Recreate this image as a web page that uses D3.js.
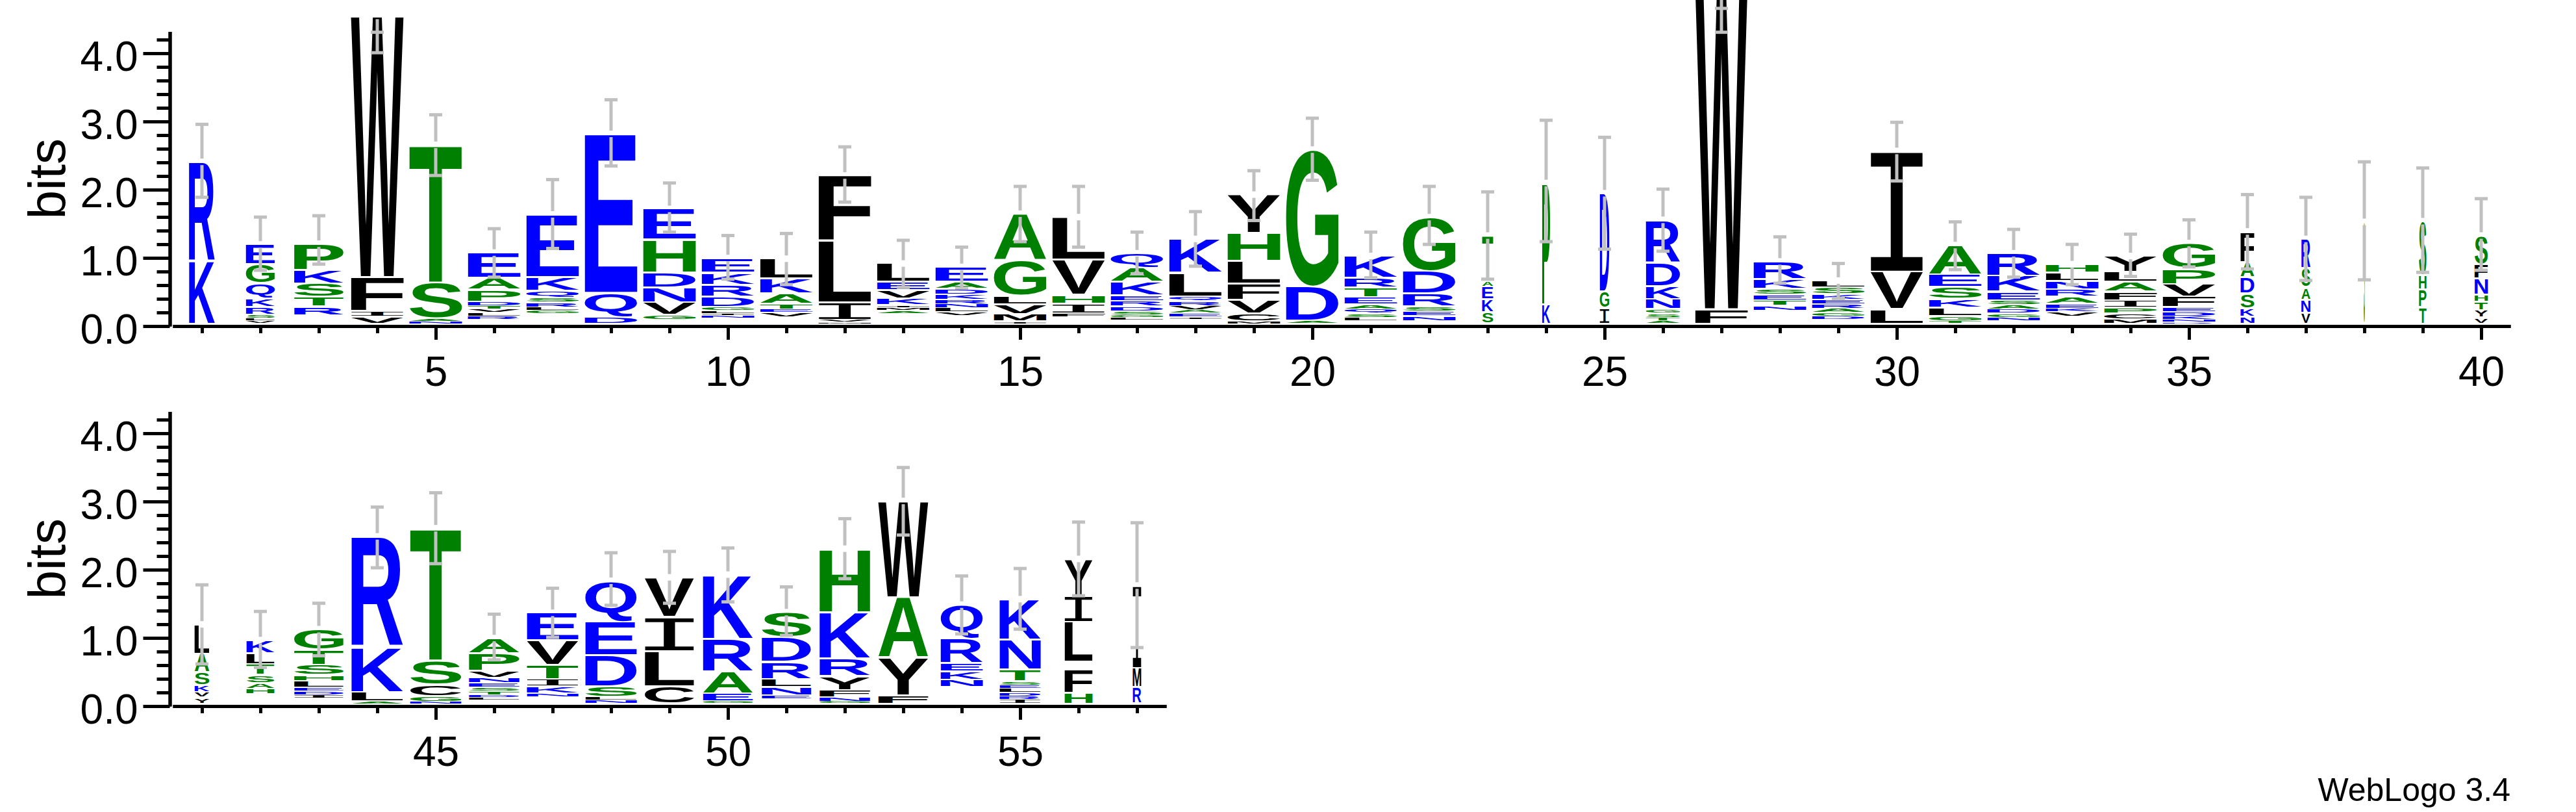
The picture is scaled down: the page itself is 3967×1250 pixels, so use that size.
<!DOCTYPE html>
<html><head><meta charset="utf-8">
<script src="https://cdn.jsdelivr.net/npm/d3@7"></script>
<style>html,body{margin:0;padding:0;background:#fff}svg{display:block}</style>
</head><body>
<svg id="c" width="3967" height="1250"></svg>
<script>
// ---------------- data ----------------
const positions = d3.range(1, 58);
const stackWidths = [0.49,0.55,0.94,1,1,1,1,1,1,1,1,1,1,1,1,1,1,1,1,1,1,1,0.21,0.15,0.18,0.65,1,1,1,1,1,1,1,1,1,0.26,0.17,0.02,0.14,0.25,
  0.28,0.53,0.94,0.98,0.97,0.96,0.98,0.98,0.94,0.95,0.94,0.96,0.95,0.8,0.78,0.53,0.16];
// letters listed bottom -> top; "-" = empty (too thin to show)
const stackLetters = ["KR","VLSRKQGE","-RTSKP","VIFW","NAST","-RLVTDPAE","-GLRSQKE","DQE","-GVNDHE","-NILGDRKE",
  "-VETAKL","MVILF","-AMIKVEL","-VLNRKDAE","IMVLGA","-FIHVL","-LGSDREKAQ","-IEAVRQLK","MCVFLHY","ADG",
  "-LSQAETRK","-NESRDG","SKEAT","KP","IGD","ATSGNKDR","FW","-NTESKR","-DGAREKSL","LVI",
  "TGLKSEA","-NGDASEKR","-VKEARNLH","MCPIFALY","RNKDEFVPG","NKSDAF","VNASR","S","TPHS","VYTHNFS",
  "YVKSAL","-HASTLK","-IDELHSTG","ALKR","NGCST","-LDTSENVPA","-NKITVE","NLSDEQ","CLIV","GEARK",
  "-ENLRDS","GNFYRKH","FYAW","-NKERQ","IRDLESTNK","HF-LIY","RMI"];
const stackBits = [
  [0.92,1.45],[0.04,0.04,0.05,0.11,0.13,0.22,0.28,0.29],[0.12,0.13,0.14,0.2,0.2,0.38],[0.10,0.09,0.49,3.83],
  [0.03,0.04,0.53,2.02],[0.06,0.05,0.05,0.05,0.05,0.06,0.18,0.17,0.37],[0.14,0.05,0.05,0.07,0.07,0.10,0.20,0.92],
  [0.10,0.35,2.33],[0.06,0.07,0.18,0.22,0.22,0.48,0.45],[0.08,0.04,0.03,0.04,0.05,0.15,0.18,0.18,0.21],
  [0.10,0.06,0.05,0.08,0.15,0.22,0.29],[0.02,0.03,0.26,0.90,0.96],[0.15,0.04,0.04,0.04,0.10,0.12,0.12,0.27],
  [0.12,0.05,0.06,0.06,0.06,0.08,0.08,0.10,0.22],[0.03,0.11,0.14,0.13,0.52,0.68],[0.10,0.05,0.14,0.13,0.52,0.62],
  [0.05,0.04,0.04,0.05,0.07,0.08,0.08,0.20,0.21,0.21],[0.06,0.04,0.05,0.05,0.06,0.07,0.07,0.35,0.49],
  [0.03,0.12,0.20,0.24,0.33,0.41,0.56],[0.04,0.50,2.01],[0.04,0.05,0.06,0.06,0.07,0.11,0.14,0.14,0.32],
  [0.04,0.07,0.07,0.07,0.19,0.33,0.79],[0.17,0.19,0.18,0.09,0.66],[0.28,1.78],[0.23,0.24,1.44],
  [0.04,0.05,0.06,0.06,0.15,0.19,0.35,0.62],[0.21,4.77],[0.19,0.07,0.08,0.08,0.09,0.14,0.26],
  [0.06,0.05,0.05,0.06,0.06,0.07,0.08,0.10,0.10],[0.21,0.55,1.77],[0.04,0.07,0.12,0.13,0.18,0.18,0.43],
  [0.04,0.05,0.06,0.06,0.06,0.07,0.13,0.23,0.33],[0.10,0.07,0.05,0.07,0.10,0.11,0.12,0.13,0.12],
  [0.06,0.09,0.08,0.11,0.13,0.14,0.15,0.23],[0.02,0.04,0.05,0.06,0.07,0.16,0.18,0.23,0.37],
  [0.10,0.12,0.22,0.24,0.22,0.45],[0.16,0.19,0.18,0.28,0.43],[1.49],[0.24,0.26,0.21,0.79],
  [0.09,0.11,0.12,0.10,0.24,0.21,0.42],
  [0.09,0.08,0.10,0.19,0.27,0.43],[0.14,0.08,0.08,0.12,0.16,0.16,0.19],[0.08,0.05,0.05,0.05,0.10,0.09,0.15,0.22,0.30],
  [0.03,0.14,0.66,1.62],[0.03,0.08,0.17,0.35,1.94],[0.05,0.04,0.04,0.05,0.06,0.06,0.08,0.10,0.26,0.22],
  [0.10,0.05,0.10,0.11,0.21,0.36,0.40],[0.05,0.05,0.15,0.46,0.49,0.60],[0.25,0.52,0.50,0.58],
  [0.03,0.12,0.32,0.48,0.94],[0.07,0.05,0.12,0.12,0.25,0.36,0.37],[0.03,0.06,0.11,0.20,0.26,0.68,0.93],
  [0.12,0.55,0.89,1.41],[0.24,0.11,0.12,0.12,0.36,0.50],[0.06,0.05,0.05,0.06,0.05,0.06,0.17,0.44,0.59],
  [0.16,0.35,0.10,0.59,0.38,0.54],[0.24,0.28,1.21]];
const errLow = [1.85,0.78,0.87,3.97,2.17,0.68,1.10,2.31,1.34,0.65,0.57,1.78,0.53,0.52,1.20,1.12,0.73,0.84,1.51,2.10,
  0.67,1.16,0.65,1.20,1.09,1.06,4.27,0.59,0.37,2.09,0.79,0.68,0.57,0.69,0.83,0.80,0.63,0.64,0.75,0.78,
  0.58,0.53,0.70,1.99,2.05,0.64,0.97,1.44,1.47,1.49,1.00,1.83,2.47,1.02,1.09,1.58,0.82];
const errHigh = [2.92,1.56,1.58,4.27,3.06,1.39,2.11,3.28,2.06,1.29,1.32,2.59,1.22,1.12,2.01,2.01,1.34,1.64,2.24,3.01,
  1.34,2.01,1.93,2.98,2.73,1.97,4.62,1.27,0.88,2.95,1.49,1.38,1.16,1.31,1.52,1.89,1.85,2.37,2.28,1.83,
  1.74,1.35,1.47,2.88,3.09,1.31,1.69,2.21,2.23,2.28,1.71,2.71,3.46,1.87,1.98,2.66,2.65];
const yMajorTicks = [0,1,2,3,4];
const yTickLabels = ["0.0","1.0","2.0","3.0","4.0"];
const yMinorTicks = [0.2,0.4,0.6,0.8,1.2,1.4,1.6,1.8,2.2,2.4,2.6,2.8,3.2,3.4,3.6,3.8,4.2];
const xTickLabels = [5,10,15,20,25,30,35,40,45,50,55];
const yMaxBits = 4.32;

// ---------------- drawing ----------------
const W = 3967, H = 1250;
const svg = d3.select('#c');
svg.append('rect').attr('width', W).attr('height', H).attr('fill', '#fff');

const FONT = "'Liberation Sans', Arial, Helvetica, sans-serif";
const MONO = "'Liberation Mono', 'DejaVu Sans Mono', monospace";
const colorOf = ch => "RKDENQ".includes(ch) ? "#0000ff" : ("SGHTAP".includes(ch) ? "#008000" : "#000000");
const famOf = ch => ch === 'I' ? MONO : FONT;
const weightOf = ch => ch === 'I' ? 'normal' : 'bold';

const ctx = document.createElement('canvas').getContext('2d');
const metricCache = {};
function inkBox(ch) {
  if (!metricCache[ch]) {
    ctx.font = weightOf(ch) + " 200px " + famOf(ch);
    const t = ctx.measureText(ch);
    metricCache[ch] = {l: t.actualBoundingBoxLeft, r: t.actualBoundingBoxRight,
                       a: t.actualBoundingBoxAscent, d: t.actualBoundingBoxDescent};
  }
  return metricCache[ch];
}
function drawLetter(g, ch, x0, y0, w, h) {
  if (w <= 0 || h <= 0) return;
  const m = inkBox(ch);
  const sx = w / (m.l + m.r), sy = h / (m.a + m.d);
  g.append('text').text(ch)
    .attr('x', 0).attr('y', 0)
    .attr('font-family', famOf(ch)).attr('font-weight', weightOf(ch)).attr('font-size', 200)
    .attr('fill', colorOf(ch))
    .attr('transform', `translate(${x0},${y0}) scale(${sx},${sy}) translate(${m.l},${m.a})`);
}

const panels = [
  {first: 1, last: 40, y0: 502, xr: [266, 3866]},
  {first: 41, last: 57, y0: 1087, xr: [266, 1796]}
];
const BIT_PX = 105;

panels.forEach(p => {
  const g = svg.append('g');
  const x = d3.scaleLinear().domain([p.first - 0.5, p.last + 0.5]).range(p.xr);
  const y = d3.scaleLinear().domain([0, yMaxBits]).range([p.y0, p.y0 - yMaxBits * BIT_PX]);
  const sy = v => y(v) - 4;            // stacks sit just above the axis line
  const fullW = (x(p.first + 1) - x(p.first)) * 0.9;
  const pos = positions.filter(i => i >= p.first && i <= p.last);

  const stacks = g.append('g');
  const bars = g.append('g');
  pos.forEach(i => {
    const k = i - 1;
    const w = stackWidths[k] * fullW;
    const x0 = x(i) - w / 2;
    let cum = 0;
    stackLetters[k].split('').forEach((ch, j) => {
      const b = stackBits[k][j];
      const yb = sy(cum), yt = sy(cum + b);
      cum += b;
      if (ch === '-') return;
      const hp = yb - yt;
      const pad = Math.min(1.5, hp * 0.15);
      drawLetter(stacks, ch, x0, yt + pad, w, hp - 2 * pad);
    });
    // error bar
    const top = cum, lo = errLow[k], hi = errHigh[k];
    const yT = sy(top), yL = sy(lo), yH = sy(hi);
    const col = '#c0c0c0', sw = 5, gap = 5;
    if (hi > top && yT - gap > yH)
      bars.append('line').attr('x1', x(i)).attr('x2', x(i)).attr('y1', yH).attr('y2', yT - gap)
        .attr('stroke', col).attr('stroke-width', sw);
    bars.append('line').attr('x1', x(i)).attr('x2', x(i)).attr('y1', yT + gap).attr('y2', yL)
      .attr('stroke', col).attr('stroke-width', sw);
    [yH, yL].forEach(yy => bars.append('line').attr('x1', x(i) - 10).attr('x2', x(i) + 10)
      .attr('y1', yy).attr('y2', yy).attr('stroke', col).attr('stroke-width', sw));
  });

  // axes
  const styleAxis = a => {
    a.select('.domain').attr('stroke', '#000').attr('stroke-width', 5);
    a.selectAll('.tick line').attr('stroke', '#000').attr('stroke-width', 5);
    a.selectAll('text').attr('font-family', FONT).attr('font-size', 64).attr('fill', '#000');
  };
  const yMinor = g.append('g').attr('transform', 'translate(261.5,0)')
    .call(d3.axisLeft(y).tickValues(yMinorTicks).tickSize(20).tickSizeOuter(0).tickFormat(''));
  styleAxis(yMinor);
  const yMajor = g.append('g').attr('transform', 'translate(261.5,0)')
    .call(d3.axisLeft(y).tickValues(yMajorTicks).tickSize(41).tickPadding(8).tickSizeOuter(0)
      .tickFormat((d, i) => yTickLabels[i]));
  styleAxis(yMajor);
  yMajor.selectAll('text').attr('dy', '0.42em');

  const majors = xTickLabels.filter(v => v >= p.first && v <= p.last);
  const xMinor = g.append('g').attr('transform', `translate(0,${p.y0})`)
    .call(d3.axisBottom(x).tickValues(pos.filter(v => !majors.includes(v))).tickSize(11).tickSizeOuter(0).tickFormat(''));
  styleAxis(xMinor);
  const xMajor = g.append('g').attr('transform', `translate(0,${p.y0})`)
    .call(d3.axisBottom(x).tickValues(majors).tickSize(21).tickPadding(26).tickSizeOuter(0).tickFormat(d => String(d)));
  styleAxis(xMajor);

  g.append('text').text('bits')
    .attr('transform', `translate(100,${(y(0) + y(yMaxBits)) / 2}) rotate(-90)`)
    .attr('text-anchor', 'middle').attr('font-family', FONT).attr('font-size', 80).attr('fill', '#000');
});

svg.append('text').text('WebLogo 3.4').attr('x', 3866).attr('y', 1233)
  .attr('text-anchor', 'end').attr('font-family', FONT).attr('font-size', 50).attr('fill', '#000');
</script>
</body></html>
